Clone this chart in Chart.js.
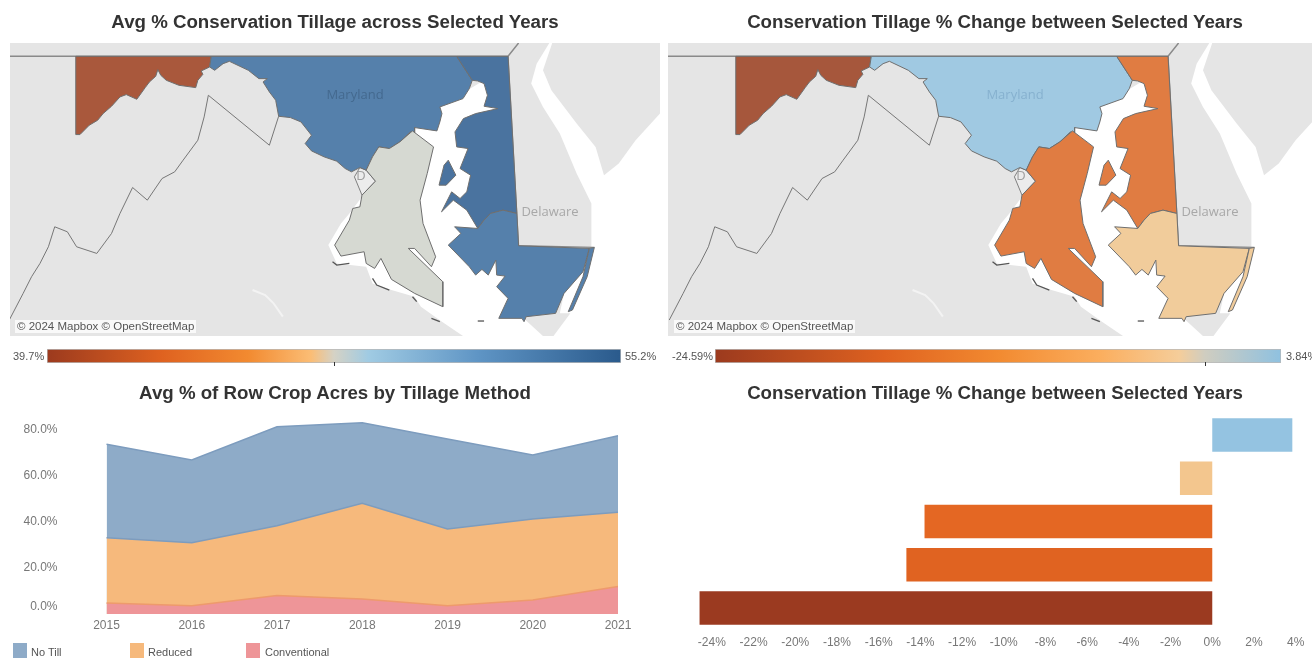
<!DOCTYPE html>
<html>
<head>
<meta charset="utf-8">
<script src="https://cdn.jsdelivr.net/npm/chart.js@4"></script>
<style>
  html, body { margin: 0; padding: 0; background: #fff; overflow: hidden; }
  body { width: 1312px; height: 658px; position: relative; font-family: "Liberation Sans", Arial, sans-serif; }
  #page { position: absolute; left: 0; top: 0; width: 1312px; height: 658px; filter: blur(0.45px); }
  canvas { position: absolute; display: block; }
  .title { position: absolute; width: 660px; text-align: center; font-weight: bold; font-size: 18.7px; line-height: 22px; color: #333; }
  .lbl { position: absolute; white-space: nowrap; font-size: 11px; line-height: 14px; color: #555; }
  .maplbl { position: absolute; white-space: nowrap; font-size: 13px; line-height: 16px; transform: translate(-50%, -50%); font-family: "Open Sans", sans-serif; }
  .attr { position: absolute; background: rgba(255,255,255,0.75); color: #555; font-size: 11.5px; line-height: 13px; height: 13px; padding: 0 2px; white-space: nowrap; }
  .swatch { position: absolute; width: 14px; height: 15px; top: 643px; }
</style>
</head>
<body>
<div id="page">
<div class="title" style="left:5px;top:11px">Avg % Conservation Tillage across Selected Years</div>
<div class="title" style="left:665px;top:11px">Conservation Tillage % Change between Selected Years</div>
<div class="title" style="left:5px;top:382px">Avg % of Row Crop Acres by Tillage Method</div>
<div class="title" style="left:665px;top:382px">Conservation Tillage % Change between Selected Years</div>

<canvas id="mapLeft" width="650" height="293" style="left:10px;top:43px"></canvas>
<canvas id="mapRight" width="644" height="293" style="left:668px;top:43px"></canvas>
<canvas id="scaleLeft" width="574" height="17" style="left:47px;top:349px"></canvas>
<canvas id="scaleRight" width="566" height="17" style="left:715px;top:349px"></canvas>
<canvas id="areaChart" width="660" height="242" style="left:0;top:400px"></canvas>
<canvas id="barChart" width="644" height="258" style="left:668px;top:400px"></canvas>

<div class="maplbl" style="left:355px;top:94px;color:#44698f">Maryland</div>
<div class="maplbl" style="left:1015px;top:94px;color:#86b1cf">Maryland</div>
<div class="maplbl" style="left:550px;top:211px;color:#a8a8a8">Delaware</div>
<div class="maplbl" style="left:1210px;top:211px;color:#a8a8a8">Delaware</div>
<div class="maplbl" style="left:361px;top:175px;color:#a0a0a0">D</div>
<div class="maplbl" style="left:1021px;top:175px;color:#a0a0a0">D</div>
<div class="attr" style="left:15px;top:320px">© 2024 Mapbox © OpenStreetMap</div>
<div class="attr" style="left:674px;top:320px">© 2024 Mapbox © OpenStreetMap</div>

<div class="lbl" style="left:13px;top:349px">39.7%</div>
<div class="lbl" style="left:625px;top:349px">55.2%</div>
<div class="lbl" style="left:672px;top:349px">-24.59%</div>
<div class="lbl" style="left:1286px;top:349px">3.84%</div>

<div class="swatch" style="left:13px;background:#8eabc8"></div>
<div class="lbl" style="left:31px;top:645px">No Till</div>
<div class="swatch" style="left:130px;background:#f6b97c"></div>
<div class="lbl" style="left:148px;top:645px">Reduced</div>
<div class="swatch" style="left:246px;background:#ee9598"></div>
<div class="lbl" style="left:265px;top:645px">Conventional</div>
</div>

<script>
// area chart
const years = ["2015", "2016", "2017", "2018", "2019", "2020", "2021"];
const conventional = [4.8, 3.6, 8.0, 6.5, 3.6, 6.1, 12.0];
const reduced = [28.4, 27.4, 30.4, 41.6, 33.4, 35.2, 32.2];
const noTill = [40.6, 36.0, 43.0, 35.1, 39.1, 27.8, 33.3];
const areaTicks = [0, 20, 40, 60, 80];

// bar chart
const regions = ["Central", "Lower Eastern Shore", "Upper Eastern Shore", "Southern", "Western"];
const changeValues = [3.84, -1.55, -13.8, -14.67, -24.59];
const changeColors = ["#94c3e1", "#f3c68e", "#e46723", "#e06321", "#9b3a20"];
const changeTicks = [-24, -22, -20, -18, -16, -14, -12, -10, -8, -6, -4, -2, 0, 2, 4];

// colour scale legends
const avgRange = [39.7, 55.2];
const changeRange = [-24.59, 3.84];

// map outlines, in map units
const landRect = [[0, 0], [1600, 0], [1600, 1100], [0, 1100]];
const baywater = [[1150, 240], [1190, 330], [1130, 640], [1240, 950], [1290, 1008], [1100, 1008], [1050, 965], [1000, 920], [985, 890], [930, 870], [885, 850], [870, 800], [800, 790], [780, 735], [810, 670], [830, 640], [985, 380], [1045, 320]];
const oceanWater = [[1305, 128], [1275, 190], [1262, 250], [1290, 320], [1330, 400], [1370, 520], [1405, 610], [1405, 740], [1385, 815], [1340, 880], [1330, 940], [1355, 940], [1315, 1008], [1568, 1008], [1568, 340], [1510, 420], [1470, 490], [1435, 525], [1415, 440], [1370, 370], [1310, 270], [1290, 210], [1312, 128]];
const western = [[180, 168], [502, 168], [498, 200], [478, 212], [482, 222], [470, 240], [465, 262], [425, 255], [395, 240], [382, 225], [375, 208], [370, 228], [355, 245], [345, 262], [325, 297], [300, 283], [285, 290], [265, 318], [245, 340], [232, 360], [212, 375], [190, 403], [180, 403]];
const central = [[502, 168], [1085, 168], [1122, 240], [1115, 265], [1100, 295], [1045, 320], [1050, 340], [1045, 365], [1038, 392], [985, 382], [985, 400], [975, 395], [950, 425], [925, 445], [900, 440], [885, 470], [870, 510], [855, 502], [835, 515], [820, 505], [800, 483], [770, 470], [740, 452], [725, 430], [740, 405], [715, 365], [690, 352], [662, 348], [655, 300], [640, 275], [625, 245], [635, 235], [615, 235], [590, 210], [545, 183], [530, 190], [510, 210], [498, 200]];
const upperShore = [[1085, 168], [1207, 168], [1228, 640], [1195, 630], [1165, 640], [1150, 660], [1135, 685], [1109, 630], [1077, 600], [1049, 635], [1073, 575], [1093, 595], [1109, 575], [1118, 525], [1093, 505], [1112, 445], [1085, 440], [1081, 395], [1101, 355], [1130, 340], [1183, 325], [1150, 318], [1158, 285], [1150, 250], [1135, 242], [1122, 240]];
const kentIsland = [[1065, 480], [1083, 525], [1060, 555], [1043, 555], [1055, 495]];
const lowerShore = [[1228, 640], [1195, 630], [1165, 640], [1150, 660], [1135, 685], [1080, 680], [1095, 700], [1065, 735], [1115, 800], [1130, 825], [1145, 808], [1160, 825], [1178, 780], [1180, 825], [1200, 828], [1180, 860], [1207, 895], [1185, 955], [1240, 955], [1245, 965], [1250, 950], [1320, 940], [1340, 880], [1385, 815], [1400, 745], [1232, 737]];
const assateague = [[1412, 742], [1400, 745], [1385, 830], [1350, 935], [1360, 930], [1395, 830]];
const southern = [[980, 392], [1030, 440], [1015, 520], [998, 600], [1005, 670], [1035, 770], [1025, 800], [985, 745], [970, 745], [1052, 845], [1052, 920], [985, 880], [930, 838], [905, 775], [890, 805], [870, 790], [865, 755], [810, 768], [795, 735], [830, 660], [838, 625], [855, 620], [860, 585], [892, 543], [870, 510], [885, 470], [900, 440], [925, 445], [950, 425]];
const dcDiamond = [[855, 502], [870, 510], [892, 543], [860, 585], [842, 530]];
const virginiaLine = [[22, 960], [55, 880], [75, 830], [95, 790], [115, 740], [130, 680], [160, 695], [182, 740], [230, 760], [265, 700], [285, 640], [315, 562], [350, 600], [385, 535], [415, 515], [435, 480], [470, 420], [485, 350], [495, 285], [640, 435], [662, 348]];
const northLine = [[0, 168], [1207, 168], [1232, 128]];
const delawareLine = [[1207, 168], [1232, 737], [1412, 742]];
const riverStroke = [[600, 870], [630, 885], [650, 910], [672, 950]];
const islandDashes = [
  [[790, 785], [800, 795], [830, 790]],
  [[885, 835], [895, 855], [925, 870]],
  [[980, 890], [990, 905]],
  [[1025, 955], [1045, 965]],
  [[1135, 963], [1150, 963]]
];

const avgFills = { western: "#a9583c", central: "#5580ab", upper: "#4a739f", lower: "#5580ab", southern: "#d6d9d2" };
const changeFills = { western: "#a6573c", central: "#a0c9e2", upper: "#e07c42", lower: "#f1cc9b", southern: "#e07c42" };

Chart.defaults.font.family = '"Liberation Sans", Arial, sans-serif';
Chart.defaults.animation = false;
Chart.defaults.responsive = false;

function toPoints(ring, close) {
  const pts = ring.map(p => ({ x: p[0], y: p[1] }));
  if (close) pts.push(pts[0]);
  return pts;
}

function shape(ring, fill, border, width) {
  return {
    data: toPoints(ring, true),
    showLine: true,
    fill: "shape",
    backgroundColor: fill,
    borderColor: border || fill,
    borderWidth: width === undefined ? 1 : width,
    pointRadius: 0,
    tension: 0
  };
}

function outline(line, color, width) {
  return {
    data: toPoints(line, false),
    showLine: true,
    fill: false,
    borderColor: color,
    borderWidth: width,
    pointRadius: 0,
    tension: 0
  };
}

function drawMap(id, fills, xMin, xMax) {
  const edge = "#6f6f6f";
  const list = [
    shape(landRect, "#e5e5e5", "#e5e5e5", 0),
    shape(oceanWater, "#ffffff", "#ffffff", 0),
    shape(baywater, "#ffffff", "#ffffff", 0),
    outline(riverStroke, "#f3f3f3", 2),
    outline(northLine, "#8a8a8a", 1.5),
    outline(delawareLine, "#8a8a8a", 1.3),
    outline(virginiaLine, "#777777", 1),
    shape(dcDiamond, "#ececec", "#808080"),
    shape(western, fills.western, edge),
    shape(central, fills.central, edge),
    shape(upperShore, fills.upper, edge),
    shape(kentIsland, fills.upper, edge),
    shape(lowerShore, fills.lower, edge),
    shape(assateague, fills.lower, edge),
    shape(southern, fills.southern, edge)
  ];
  islandDashes.forEach(d => list.push(outline(d, "#555555", 1.3)));
  // later entries go on top
  list.forEach((d, i) => { d.order = list.length - i; });
  new Chart(document.getElementById(id), {
    type: "scatter",
    data: { datasets: list },
    options: {
      plugins: { legend: { display: false }, tooltip: { enabled: false } },
      scales: {
        x: { type: "linear", display: false, min: xMin, max: xMax },
        y: { type: "linear", display: false, min: 128, max: 1008, reverse: true }
      }
    }
  });
}

drawMap("mapLeft", avgFills, 23.76, 1568);
drawMap("mapRight", changeFills, 19, 1549);

function drawScale(id, range, midValue, stops) {
  new Chart(document.getElementById(id), {
    type: "bar",
    data: {
      labels: ["scale"],
      datasets: [{
        data: [range],
        barPercentage: 1,
        categoryPercentage: 1,
        borderWidth: 1,
        borderColor: "#b9b9b9",
        borderSkipped: false,
        backgroundColor: (ctx) => {
          const area = ctx.chart.chartArea;
          if (!area) return "#888";
          const g = ctx.chart.ctx.createLinearGradient(area.left, 0, area.right, 0);
          stops.forEach(s => g.addColorStop(s[0], s[1]));
          return g;
        }
      }]
    },
    options: {
      indexAxis: "y",
      layout: { padding: { bottom: 3 } },
      plugins: { legend: { display: false }, tooltip: { enabled: false } },
      scales: {
        x: { display: false, min: range[0], max: range[1] },
        y: { display: false }
      }
    },
    plugins: [{
      id: "midTick",
      afterDraw(chart) {
        const c = chart.ctx;
        const px = Math.round(chart.scales.x.getPixelForValue(midValue)) + 0.5;
        c.save();
        c.strokeStyle = "#333";
        c.beginPath();
        c.moveTo(px, chart.chartArea.bottom - 1);
        c.lineTo(px, chart.chartArea.bottom + 3);
        c.stroke();
        c.restore();
      }
    }]
  });
}

drawScale("scaleLeft", avgRange, 47.45, [[0, "#9c3a1e"], [0.2, "#df6220"], [0.35, "#f28a30"], [0.46, "#fbbd75"], [0.5, "#d5d2c5"], [0.56, "#a0cbe3"], [0.75, "#5f95c5"], [1, "#2a5a8c"]]);
drawScale("scaleRight", changeRange, 0, [[0, "#9c3a1e"], [0.3, "#df6220"], [0.5, "#f28a30"], [0.68, "#fbae5e"], [0.82, "#f5cd9a"], [0.865, "#d0cdc0"], [1, "#8fc1e0"]]);

function areaSet(label, values, fill, border) {
  return {
    label: label,
    data: values,
    fill: true,
    stack: "tillage",
    backgroundColor: fill,
    borderColor: border,
    borderWidth: 1.5,
    pointRadius: 0,
    tension: 0
  };
}

new Chart(document.getElementById("areaChart"), {
  type: "line",
  data: {
    labels: years,
    datasets: [
      areaSet("Conventional", conventional, "#ee9598", "#ee9a6c"),
      areaSet("Reduced", reduced, "#f6b97c", "#7d9cbe"),
      areaSet("No Till", noTill, "#8eabc8", "#7d9cbe")
    ]
  },
  options: {
    layout: { padding: { top: 7, right: 42 } },
    plugins: { legend: { display: false }, tooltip: { enabled: false } },
    scales: {
      x: {
        grid: { display: false, drawTicks: false },
        border: { display: false },
        ticks: { color: "#777", font: { size: 12 }, padding: 4, maxRotation: 0, autoSkip: false },
        afterFit: (s) => { s.height = 28; }
      },
      y: {
        stacked: true,
        min: 0,
        max: 90,
        grid: { display: false, drawTicks: false },
        border: { display: false },
        ticks: {
          color: "#777",
          font: { size: 12 },
          padding: 49,
          // the bottom label sits a little above its tick in the original
          callback: (v) => v === 0 ? ["0.0%", ""] : v.toFixed(1) + "%"
        },
        afterBuildTicks: (s) => { s.ticks = areaTicks.map(v => ({ value: v })); },
        afterFit: (s) => {
          s.width = 106.5;
          // tick padding would otherwise also eat the plot height
          s.paddingTop = 0;
          s.paddingBottom = 0;
        }
      }
    }
  }
});

new Chart(document.getElementById("barChart"), {
  type: "bar",
  data: {
    labels: regions,
    datasets: [{
      data: changeValues,
      backgroundColor: changeColors,
      barPercentage: 0.775,
      categoryPercentage: 1
    }]
  },
  options: {
    indexAxis: "y",
    layout: { padding: { top: 13.5, left: 23, right: 8 } },
    plugins: { legend: { display: false }, tooltip: { enabled: false } },
    scales: {
      x: {
        min: -25,
        max: 4.4,
        grid: { display: false, drawTicks: false },
        border: { display: false },
        ticks: { color: "#777", font: { size: 12 }, padding: 6, maxRotation: 0, autoSkip: false, callback: (v) => v + "%" },
        afterBuildTicks: (s) => { s.ticks = changeTicks.map(v => ({ value: v })); },
        afterFit: (s) => { s.height = 28.5; }
      },
      y: { display: false }
    }
  }
});
</script>
</body>
</html>
